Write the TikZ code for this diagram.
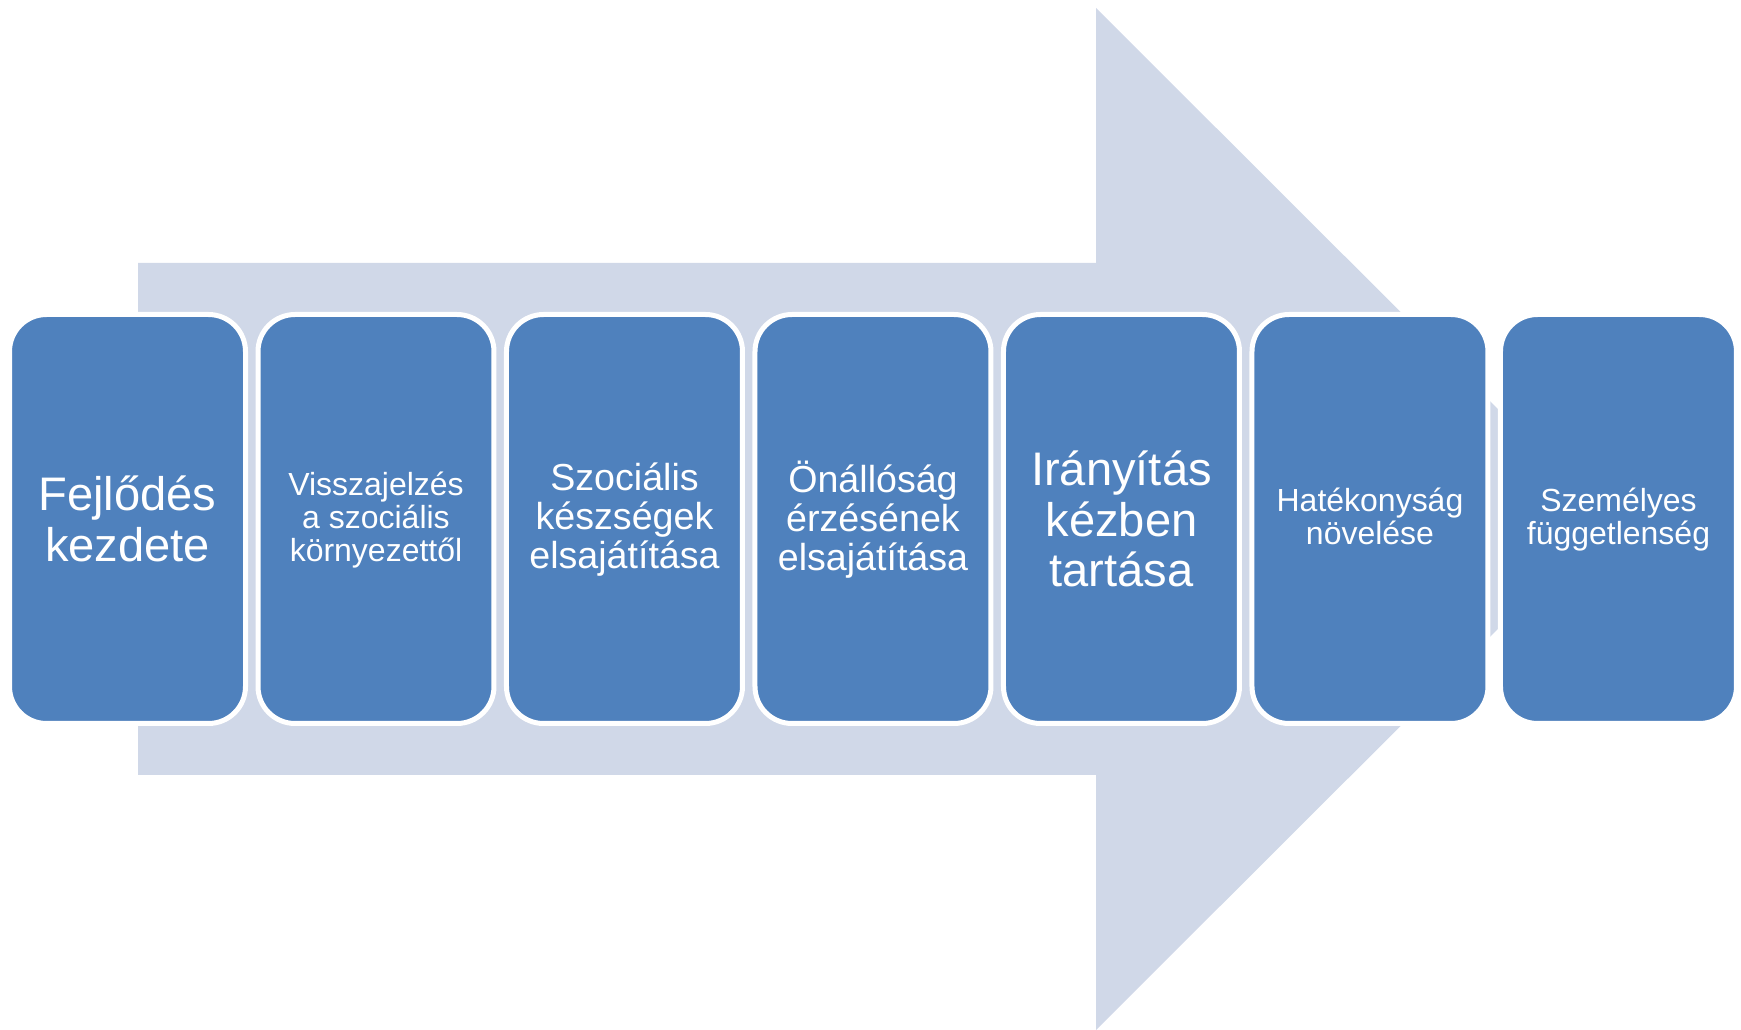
\documentclass[tikz,border=0pt]{standalone}
\usepackage{fontspec}
\setmainfont{Liberation Sans}
\usetikzlibrary{positioning}
\definecolor{phaseblue}{HTML}{4F81BD}
\definecolor{arrowgray}{HTML}{D0D8E8}

\begin{document}
\begin{tikzpicture}[x=0.1mm, y=-0.1mm, node distance=1.25mm]
		\tikzstyle{phase}=[rectangle, rounded corners=3.7mm, fill=phaseblue, draw=white, line width=0.5mm, minimum width=23.6mm, minimum height=40.9mm, inner sep=0mm, outer sep=0mm, text=white, align=center]
		\tikzstyle{big}=[font=\fontsize{13.4}{14.3}\selectfont]
		\tikzstyle{mid}=[font=\fontsize{10.7}{11.1}\selectfont, text depth=0.6mm]
		\tikzstyle{small}=[font=\fontsize{9.1}{9.4}\selectfont, text depth=0.5mm]
		\useasboundingbox (0,0) rectangle (1741,1030);
		% big arrow behind the steps
		\fill[arrowgray] (138,263) -- (1096,263) -- (1096,8) -- (1608,519) -- (1096,1030) -- (1096,775) -- (138,775) -- cycle;
		\node[phase, big] (start) at (127.5,519) {Fejlődés\\kezdete};
		\node[phase, small] (feedback) [right =of start] {Visszajelzés\\a szociális\\környezettől};
		\node[phase, mid] (social) [right =of feedback] {Szociális\\készségek\\elsajátítása};
		\node[phase, mid] (autonomy) [right =of social] {Önállóság\\érzésének\\elsajátítása};
		\node[phase, big] (control) [right =of autonomy] {Irányítás\\kézben\\tartása};
		\node[phase, small] (efficiency) [right =of control] {Hatékonyság\\növelése};
		\node[phase, small] (independence) [right =of efficiency] {Személyes\\függetlenség};
	\end{tikzpicture}
\end{document}
